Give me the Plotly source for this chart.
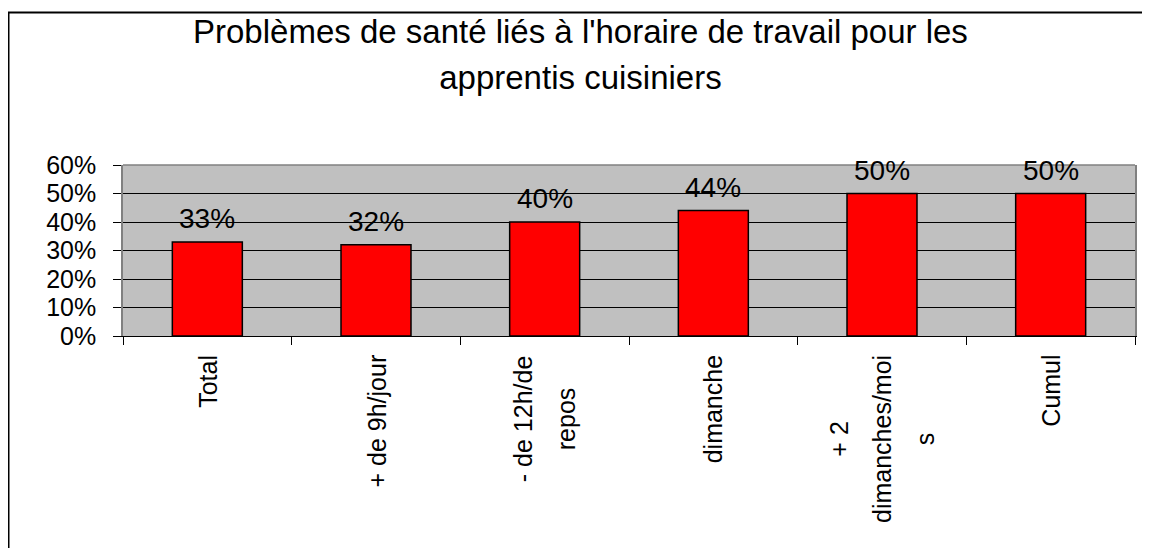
import plotly.graph_objects as go

categories = ["Total", "+ de 9h/jour", "- de 12h/de repos", "dimanche", "+ 2 dimanches/mois", "Cumul"]
category_lines = [["Total"], ["+ de 9h/jour"], ["- de 12h/de", "repos"], ["dimanche"],
                  ["+ 2", "dimanches/moi", "s"], ["Cumul"]]
values = [0.33, 0.32, 0.40, 0.44, 0.50, 0.50]
value_labels = ["33%", "32%", "40%", "44%", "50%", "50%"]
title_lines = ["Problèmes de santé liés à l'horaire de travail pour les", "apprentis cuisiniers"]

FONT = "Arial, Liberation Sans, sans-serif"

# The page has an 8px body margin: work in page pixels and subtract it.
OFF = 8
W, H = 1150 - OFF, 548 - OFF
PLOT_L, PLOT_R, PLOT_T, PLOT_B = 123 - OFF, 1135 - OFF, 165 - OFF, 336 - OFF
plot_w = PLOT_R - PLOT_L
plot_h = PLOT_B - PLOT_T


def px_x(px):
    return (px - OFF - PLOT_L) / plot_w


def px_y(py):
    return (PLOT_B - (py - OFF)) / plot_h


def spaced(lines, size):
    return "<br>".join(f'<span style="font-size:{size}px">{ln}</span>' for ln in lines)


fig = go.Figure()
fig.add_trace(go.Bar(
    x=categories, y=values,
    marker=dict(color="#FF0000", line=dict(color="black", width=1.5)),
    hoverinfo="x+y",
))

# data labels above bars
for c, v, t in zip(categories, values, value_labels):
    fig.add_annotation(x=c, y=v, xref="x", yref="y", text=t, showarrow=False,
                       yanchor="bottom", yshift=6,
                       font=dict(family=FONT, size=28, color="black"))

# rotated category labels (outer font size sets the line spacing)
for c, lines in zip(categories, category_lines):
    fig.add_annotation(x=c, y=0, xref="x", yref="paper", text=spaced(lines, 25),
                       showarrow=False, textangle=-90, yanchor="top", yshift=-17,
                       align="center",
                       font=dict(family=FONT, size=33, color="black"))

# title
fig.add_annotation(x=px_x(580), y=px_y(11), xref="paper", yref="paper",
                   text=spaced(title_lines, 33), showarrow=False,
                   xanchor="center", yanchor="top", align="center",
                   font=dict(family=FONT, size=35, color="black"))

fig.update_layout(
    width=W, height=H,
    margin=dict(l=PLOT_L, r=W - PLOT_R, t=PLOT_T, b=H - PLOT_B, pad=0),
    paper_bgcolor="white",
    plot_bgcolor="#C0C0C0",
    showlegend=False,
    bargap=0.585,
    font=dict(family=FONT, color="black"),
    xaxis=dict(
        type="category",
        showticklabels=False,
        ticks="outside", ticklen=8, tickcolor="black", tickwidth=1,
        tickson="boundaries",
        showline=True, linecolor="black", linewidth=1,
        showgrid=False, zeroline=False,
    ),
    yaxis=dict(
        range=[0, 0.6], dtick=0.1, tickformat=".0%",
        ticks="outside", ticklen=8, tickcolor="black", tickwidth=1,
        ticklabelstandoff=12,
        showgrid=True, gridcolor="black", gridwidth=1,
        showline=True, linecolor="#808080", linewidth=1.5, mirror=True,
        zeroline=False,
        tickfont=dict(family=FONT, size=25, color="black"),
    ),
)

# grey top edge of plot area
fig.add_shape(type="line", xref="paper", yref="paper", x0=0, x1=1, y0=1, y1=1,
              line=dict(color="#808080", width=1.5), layer="above")
# outer chart frame: top and left edges
fig.add_shape(type="line", xref="paper", yref="paper",
              x0=px_x(8), x1=px_x(1150), y0=px_y(12.5), y1=px_y(12.5),
              line=dict(color="black", width=2))
fig.add_shape(type="line", xref="paper", yref="paper",
              x0=px_x(8.5), x1=px_x(8.5), y0=px_y(12.5), y1=px_y(560),
              line=dict(color="black", width=2))

fig.write_html("out.html")
